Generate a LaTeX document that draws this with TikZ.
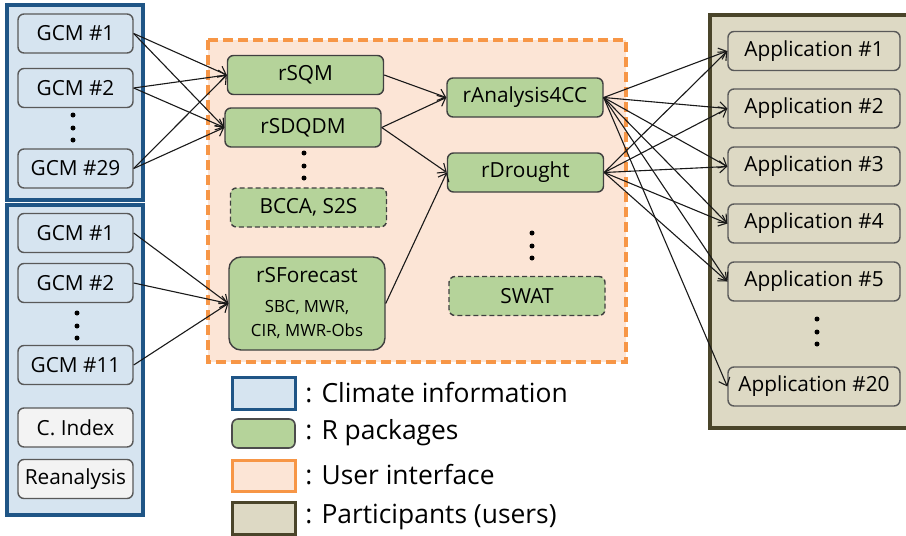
\documentclass[tikz,border=0pt]{standalone}
\usepackage{fontspec}
\setmainfont{Open Sans}
\usetikzlibrary{arrows.meta}

\definecolor{climfill}{RGB}{214,228,240}
\definecolor{climline}{RGB}{31,85,134}
\definecolor{idxfill}{RGB}{243,243,243}
\definecolor{pkgfill}{RGB}{181,211,154}
\definecolor{uifill}{RGB}{252,229,214}
\definecolor{uiline}{RGB}{247,150,70}
\definecolor{usrfill}{RGB}{221,217,196}
\definecolor{usrline}{RGB}{74,69,42}

\newcommand\smallpkg{\fontsize{8.4}{10}\selectfont}

\tikzset{
  gcm/.style={draw=black!65, line width=0.7pt, fill=climfill, rounded corners=3pt,
    minimum width=57.5pt, minimum height=19.5pt, inner sep=0pt,
    font=\fontsize{10.4}{12}\selectfont},
  cidx/.style={gcm, fill=idxfill},
  pkg/.style={draw=black!75, line width=0.7pt, fill=pkgfill, rounded corners=3pt,
    minimum width=78pt, minimum height=19.5pt, inner sep=0pt,
    font=\fontsize{10.4}{12}\selectfont},
  pkgdash/.style={pkg, dash pattern=on 2.5pt off 1.5pt},
  app/.style={draw=black!65, line width=0.7pt, fill=usrfill, rounded corners=3pt,
    minimum width=86pt, minimum height=19.5pt, inner sep=0pt,
    font=\fontsize{10.4}{12}\selectfont},
  link/.style={-{Straight Barb[length=3.5pt,width=6pt]}, line width=0.55pt, black!90},
  legtext/.style={anchor=west, inner sep=0pt, font=\fontsize{13.2}{15}\selectfont},
}

\begin{document}
\begin{tikzpicture}[x=0.5pt,y=-0.5pt]
\useasboundingbox (0,0) rectangle (906,536);

\draw [climline, line width=1.75pt, fill=climfill] (7,5) rectangle (143,200);
\draw [climline, line width=1.75pt, fill=climfill] (7,205) rectangle (143,515);
\draw [uiline, line width=1.6pt, dash pattern=on 5pt off 2.5pt, fill=uifill] (208,40) rectangle (626,362);
\draw [usrline, line width=1.75pt, fill=usrfill] (710,15) rectangle (912,428);

\node [gcm] (g1) at (75.5,33.5) {GCM \#1};
\node [gcm] (g2) at (75.5,88) {GCM \#2};
\node [gcm] (g29) at (75.5,168.5) {GCM \#29};

\node [gcm] (h1) at (75.5,233) {GCM \#1};
\node [gcm] (h2) at (75.5,283) {GCM \#2};
\node [gcm] (h11) at (75.5,365) {GCM \#11};
\node [cidx] (cidx) at (75.5,427.5) {C. Index};
\node [cidx] (rean) at (75.5,479) {Reanalysis};

\node [pkg] (sqm) at (305.5,75) {rSQM};
\node [pkg] (sdqdm) at (303,127.5) {rSDQDM};
\node [pkgdash] (bcca) at (308.5,207.5) {BCCA, S2S};
\node [pkg, rounded corners=6pt, minimum height=46.5pt, align=center] (sf) at (307,303.5)
  {rSForecast\\[3pt]\smallpkg SBC, MWR,\\\smallpkg CIR, MWR-Obs};

\node [pkg] (ana) at (525,97.5) {rAnalysis4CC};
\node [pkg] (dro) at (525.5,172.5) {rDrought};
\node [pkgdash] (swat) at (527,296) {SWAT};

\node [app] (a1) at (814,51) {Application \#1};
\node [app] (a2) at (814,108.5) {Application \#2};
\node [app] (a3) at (814,166.5) {Application \#3};
\node [app] (a4) at (814,223.5) {Application \#4};
\node [app] (a5) at (814,281.5) {Application \#5};
\node [app] (a20) at (814,386.5) {Application \#20};

\foreach \y in {115,128,140} \fill (73,\y) circle (1.25pt);
\foreach \y in {313,326,338} \fill (77,\y) circle (1.25pt);
\foreach \y in {153,166,178} \fill (304,\y) circle (1.25pt);
\foreach \y in {233,246,258} \fill (532,\y) circle (1.25pt);
\foreach \y in {319,332,344} \fill (817,\y) circle (1.25pt);

\foreach \s in {g1,g2,g29}
  \foreach \t in {sqm,sdqdm}
    \draw [link] (\s.east) -- (\t.west);
\foreach \s in {h1,h2,h11}
  \draw [link] (\s.east) -- (sf.west);
\draw [link] (sqm.east) -- (ana.west);
\draw [link] (sdqdm.east) -- (ana.west);
\draw [link] (sdqdm.east) -- (dro.west);
\draw [link] (sf.east) -- (dro.west);
\foreach \t in {a1,a2,a3,a4,a5,a20}
  \draw [link] (ana.east) -- (\t.west);
\foreach \t in {a1,a2,a3,a4,a5}
  \draw [link] (dro.east) -- (\t.west);

\draw [climline, line width=1.5pt, fill=climfill] (232,377) rectangle (295,409);
\draw [black!70, line width=0.8pt, fill=pkgfill, rounded corners=3pt] (232,419) rectangle (295,448);
\draw [uiline, line width=1.5pt, fill=uifill] (232,460) rectangle (295,491);
\draw [usrline, line width=1.5pt, fill=usrfill] (232,502) rectangle (295,534);
\node [legtext] (leg1) at (305,393) {: Climate information};
\node [legtext] (leg2) at (305,433) {: R packages};
\node [legtext] (leg3) at (305,475) {: User interface};
\node [legtext] (leg4) at (305,517) {: Participants (users)};
\end{tikzpicture}
\end{document}
